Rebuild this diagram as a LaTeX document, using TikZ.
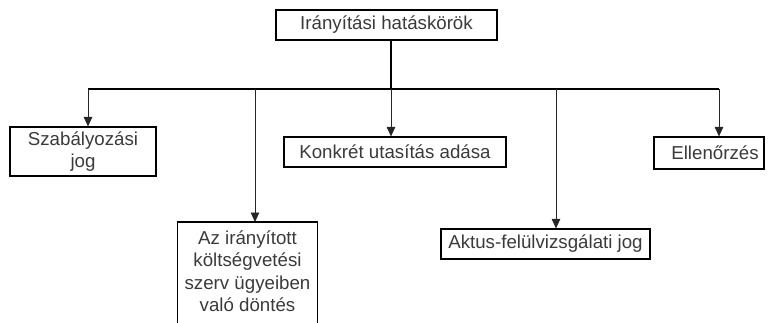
\documentclass[tikz,border=0pt]{standalone}
\usepackage{fontspec}
\setmainfont{Liberation Sans}
\usetikzlibrary{arrows.meta}
\definecolor{txt}{HTML}{3A3A3A}
\begin{document}
\begin{tikzpicture}[x=1pt,y=-1pt,
  box/.style={draw=black,line width=1.1pt,inner sep=0pt,align=center,text=txt,
    font=\fontsize{18.7}{22.5}\selectfont},
  branch/.style={draw=black!85,line width=0.9pt,-{Triangle[width=8.5pt,length=9.5pt]}},
  bus/.style={draw=black,line width=1.9pt}]
\useasboundingbox (0,0) rectangle (774,322);
\node[box,minimum width=221pt,minimum height=30pt] (top) at (386.5,25) {Irányítási hatáskörök};
\node[box,minimum width=146pt,minimum height=49pt] (szab) at (83,151.5) {Szabályozási\\jog};
\node[box,minimum width=222pt,minimum height=30pt] (konk) at (395,152) {Konkrét utasítás adása};
\node[box,minimum width=110pt,minimum height=32pt] (ell) at (709,153) {\hspace*{12pt}Ellenőrzés};
\node[box,minimum width=209pt,minimum height=30pt] (akt) at (545.5,244) {Aktus-felülvizsgálati jog};
\node[align=center,text=txt,inner xsep=0pt,inner ysep=8.5pt,font=\fontsize{18.7}{22.5}\selectfont,
  minimum width=139pt,anchor=north] (az) at (247.5,222)
  {Az irányított\\költségvetési\\szerv ügyeiben\\ való döntés};
\draw[black,line width=1.1pt] (az.west |- 0,340) -- (az.north west) -- (az.north east) -- (az.east |- 0,340);
% bus
\coordinate (bl) at (88,89);
\coordinate (br) at (719,89);
\coordinate (bc) at (391,89);
\draw[bus] (top.south -| bc) -- (bc);
\draw[bus] (bl) -- (br);
\draw[branch] (bl) -- (bl |- szab.north);
\draw[branch] (255,89) coordinate (b2) -- (b2 |- az.north);
\draw[branch] (bc) -- (bc |- konk.north);
\draw[branch] (556,89) coordinate (b4) -- (b4 |- akt.north);
\draw[branch] (br) -- (br |- ell.north);
\end{tikzpicture}
\end{document}
